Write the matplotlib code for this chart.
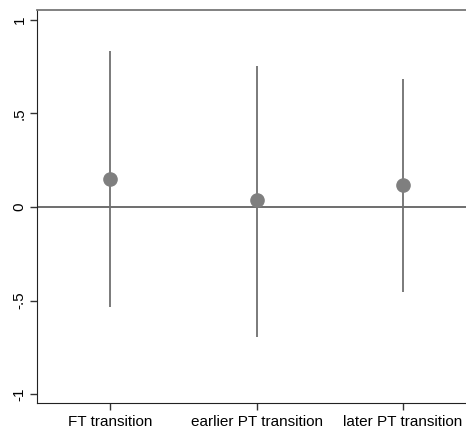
import matplotlib
matplotlib.use("Agg")
import matplotlib.pyplot as plt

labels = ["FT transition", "earlier PT transition", "later PT transition"]
coef = [0.15, 0.035, 0.115]
ci_low = [-0.533, -0.694, -0.453]
ci_high = [0.834, 0.754, 0.683]
yticks = [-1, -0.5, 0, 0.5, 1]
yticklabels = ["-1", "-.5", "0", ".5", "1"]

plt.rcParams["font.family"] = ["Liberation Sans", "DejaVu Sans"]

fig = plt.figure(figsize=(4.66, 4.28), dpi=100)
ax = fig.add_axes([0.0794, 0.0584, 0.9206, 0.9182])

xs = range(1, len(labels) + 1)
ax.axhline(0, color="#555555", lw=1.2, zorder=1)
ax.vlines(xs, ci_low, ci_high, color="#707070", lw=1.3, zorder=2)
ax.plot(xs, coef, "o", color="#7f7f7f", ms=9.5, zorder=3)

ax.set_xlim(0.5, 3.43)
ax.set_ylim(-1.048, 1.053)
ax.set_xticks(list(xs))
ax.set_xticklabels(labels, fontsize=11)
ax.set_yticks(yticks)
ax.set_yticklabels(yticklabels, fontsize=11, rotation=90, va="center")
ax.tick_params(direction="out", length=5, width=1, color="#333333")
ax.tick_params(axis="y", pad=2.5)

ax.spines["top"].set_color("#777777")
ax.spines["top"].set_linewidth(1.3)
ax.spines["right"].set_visible(False)
ax.spines["left"].set_color("#222222")
ax.spines["bottom"].set_color("#222222")

fig.savefig("out.png", dpi=100)
